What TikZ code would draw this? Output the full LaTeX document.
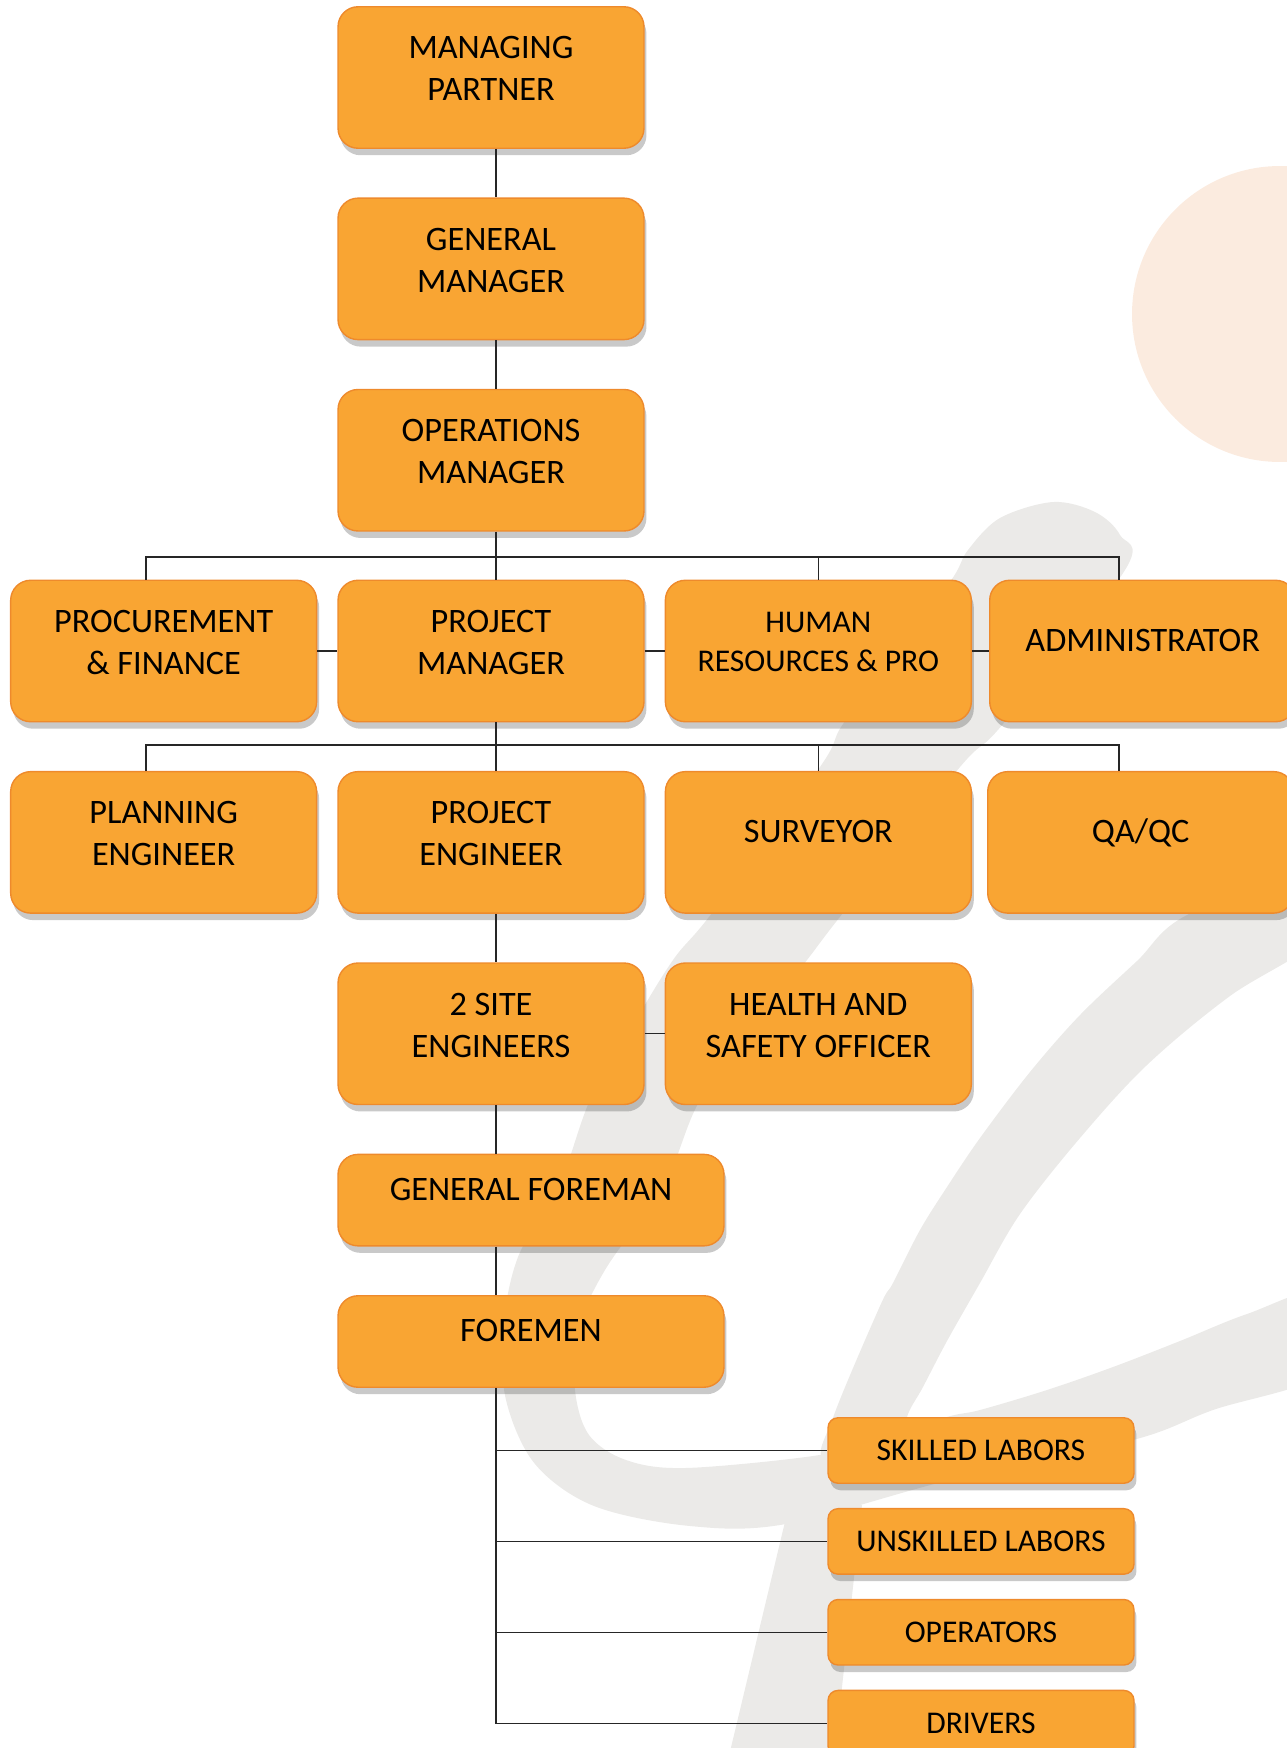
\documentclass[tikz,border=0pt]{standalone}
\usepackage{fontspec}
\setmainfont{Carlito}
\usepackage{tikz}
\usetikzlibrary{positioning, shadows}
\definecolor{boxfill}{HTML}{F9A533}
\definecolor{boxline}{HTML}{EE8A2C}
\definecolor{swoosh}{HTML}{EBEAE8}
\definecolor{peach}{HTML}{FBEBDF}

\begin{document}
\begin{tikzpicture}[
        x=0.02cm, y=-0.02cm,
        node distance=0.97cm and 0.4cm,
        orgbox/.style={draw=boxline, fill=boxfill, line width=0.8pt, rounded corners=0.4cm,
          minimum width=6.12cm, minimum height=2.83cm, inner sep=0pt, align=center,
          font=\fontsize{19.5}{24}\selectfont,
          drop shadow={shadow xshift=0.05cm, shadow yshift=-0.14cm, opacity=0.3, fill=black!70}},
        twoline/.style={text height=1.3cm, text depth=0.36cm},
        oneline/.style={text height=0.4cm, text depth=0.4cm},
        smallfont/.style={font=\fontsize{18}{22}\selectfont},
        widebox/.style={orgbox, oneline, minimum width=7.72cm, minimum height=1.83cm},
        laborbox/.style={orgbox, smallfont, minimum height=1.31cm, rounded corners=0.2cm},
        conn/.style={draw=black!85, line width=0.7pt}
      ]
        \useasboundingbox (0,0) rectangle (1287,1748);
        \clip (0,0) rectangle (1287,1748);

        % Background decoration
        \fill [peach] (1280,314) circle [radius=2.96cm];
        \fill [swoosh] plot [smooth cycle, tension=0.55] coordinates {
          (1053,502) (1000,518) (968,550) (952,579) (900,650) (843,724) (820,767)
          (712,913) (673,960) (630,1030) (590,1100) (560,1183) (518,1257) (503,1330)
          (506,1400) (535,1464) (594,1506) (690,1526) (786,1524) (950,1480) (1133,1440)
          (1213,1410) (1330,1370) (1330,1290) (1247,1314) (1180,1341) (1113,1367)
          (1047,1390) (980,1410) (947,1417) (880,1440) (813,1456) (685,1468) (626,1460)
          (589,1435) (575,1390) (578,1330) (605,1270) (665,1183) (700,1100) (760,1020)
          (807,960) (843,913) (960,767) (1003,724) (1125,570) (1120,535) (1095,512)};
        \fill [swoosh] plot [smooth cycle, tension=0.55] coordinates {
          (1330,860) (1187,915) (1137,961) (1080,1015) (1030,1072) (980,1138) (947,1187)
          (920,1230) (893,1283) (880,1306) (834,1415) (825,1460) (905,1450) (907,1417)
          (923,1387) (947,1341) (980,1283) (1020,1214) (1080,1138) (1147,1065)
          (1230,996) (1330,930)};
        \fill [swoosh] (789,1505) -- (862,1505) -- (834,1760) -- (728,1760) -- cycle;

        % Top of the chart
        \node (mp) [orgbox, twoline] at (491,77.5) {MANAGING\\PARTNER};
        \node (gm) [orgbox, twoline, below=of mp] {GENERAL\\MANAGER};
        \node (om) [orgbox, twoline, below=of gm] {OPERATIONS\\MANAGER};

        % First row
        \node (pm) [orgbox, twoline] at (491,651) {PROJECT\\MANAGER};
        \node (proc) [orgbox, twoline, left=of pm] {PROCUREMENT\\\& FINANCE};
        \node (hr) [orgbox, smallfont, text height=1.2cm, text depth=0.4cm, right=of pm] {HUMAN\\RESOURCES \& PRO};
        \node (admin) [orgbox, oneline, right=0.34cm of hr] {ADMINISTRATOR};

        % Second row
        \node (pe) [orgbox, twoline, below=of pm] {PROJECT\\ENGINEER};
        \node (plan) [orgbox, twoline, left=of pe] {PLANNING\\ENGINEER};
        \node (surv) [orgbox, oneline, right=of pe] {SURVEYOR};
        \node (qa) [orgbox, oneline, right=0.3cm of surv] {QA/QC};

        % Site level
        \node (se) [orgbox, twoline, below=of pe] {2 SITE\\ENGINEERS};
        \node (hs) [orgbox, twoline, right=of se] {HEALTH AND\\SAFETY OFFICER};
        \node (gf) [widebox, below=of se.south west, anchor=north west] {GENERAL FOREMAN};
        \node (fm) [widebox, below=of gf] {FOREMEN};

        % Workforce
        \node (skl) [laborbox] at (981,1450.5) {SKILLED LABORS};
        \node (unsk) [laborbox, below=0.48cm of skl] {UNSKILLED LABORS};
        \node (ops) [laborbox, below=0.48cm of unsk] {OPERATORS};
        \node (drv) [laborbox, below=0.48cm of ops] {DRIVERS};

        % Connectors
        \coordinate (trunk) at (496,0);
        \coordinate (busl) at (146,557);
        \coordinate (busr) at (1119,557);
        \coordinate (bus2l) at (146,745);
        \coordinate (bus2r) at (1119,745);

        \draw [conn] (mp.south -| trunk) -- (gm.north -| trunk);
        \draw [conn] (gm.south -| trunk) -- (om.north -| trunk);
        \draw [conn] (om.south -| trunk) -- (pm.north -| trunk);
        \draw [conn] (proc.north -| busl) -- (busl) -- (busr) -- (admin.north -| busr);
        \draw [conn] (busl -| hr.north) -- (hr.north);
        \draw [conn] (proc.east) -- (pm.west);
        \draw [conn] (pm.east) -- (hr.west);
        \draw [conn] (hr.east) -- (admin.west);
        \draw [conn] (pm.south -| trunk) -- (pe.north -| trunk);
        \draw [conn] (plan.north -| bus2l) -- (bus2l) -- (bus2r) -- (qa.north -| bus2r);
        \draw [conn] (bus2l -| surv.north) -- (surv.north);
        \draw [conn] (pe.south -| trunk) -- (se.north -| trunk);
        \draw [conn] (se.east) -- (hs.west);
        \draw [conn] (se.south -| trunk) -- (gf.north -| trunk);
        \draw [conn] (gf.south -| trunk) -- (fm.north -| trunk);
        \draw [conn] (fm.south -| trunk) |- (drv.west);
        \foreach \n in {skl, unsk, ops}
          \draw [conn] (trunk |- \n.west) -- (\n.west);
      \end{tikzpicture}
\end{document}
